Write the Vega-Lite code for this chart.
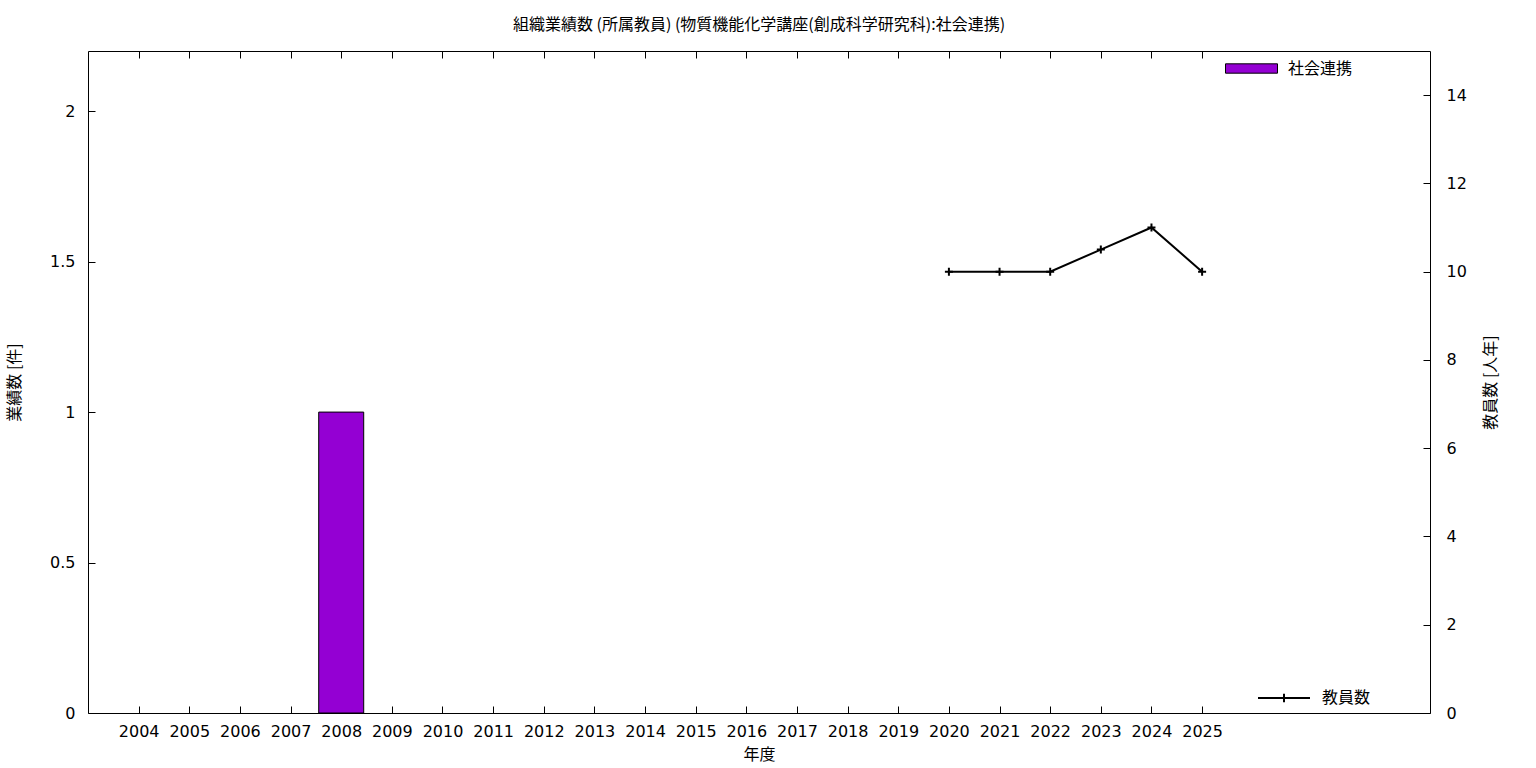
{
  "$schema": "https://vega.github.io/schema/vega-lite/v6.json",
  "autosize": "none",
  "width": 1342,
  "height": 662,
  "padding": {"left": 88, "top": 51, "right": 106, "bottom": 55},
  "config": {
    "font": "Noto Sans CJK JP",
    "view": {"stroke": "black", "strokeWidth": 1},
    "axis": {
      "domain": false,
      "grid": false,
      "tickColor": "black",
      "tickSize": -7,
      "tickWidth": 1,
      "labelFont": "DejaVu Sans",
      "labelFontSize": 16,
      "labelColor": "black",
      "titleFont": "Noto Sans CJK JP",
      "titleFontSize": 16,
      "titleFontWeight": "normal",
      "titleColor": "black"
    },
    "legend": {
      "labelFont": "Noto Sans CJK JP",
      "labelFontSize": 16,
      "labelColor": "black",
      "padding": 0
    }
  },
  "title": {
    "text": "組織業績数 (所属教員) (物質機能化学講座(創成科学研究科):社会連携)",
    "font": "Noto Sans CJK JP",
    "fontSize": 16,
    "fontWeight": "normal",
    "color": "black",
    "offset": 9,
    "anchor": "middle"
  },
  "datasets": {
    "bars": [
      {"year": 2004, "count": 0, "series": "社会連携"},
      {"year": 2005, "count": 0, "series": "社会連携"},
      {"year": 2006, "count": 0, "series": "社会連携"},
      {"year": 2007, "count": 0, "series": "社会連携"},
      {"year": 2008, "count": 1, "series": "社会連携"},
      {"year": 2009, "count": 0, "series": "社会連携"},
      {"year": 2010, "count": 0, "series": "社会連携"},
      {"year": 2011, "count": 0, "series": "社会連携"},
      {"year": 2012, "count": 0, "series": "社会連携"},
      {"year": 2013, "count": 0, "series": "社会連携"},
      {"year": 2014, "count": 0, "series": "社会連携"},
      {"year": 2015, "count": 0, "series": "社会連携"},
      {"year": 2016, "count": 0, "series": "社会連携"},
      {"year": 2017, "count": 0, "series": "社会連携"},
      {"year": 2018, "count": 0, "series": "社会連携"},
      {"year": 2019, "count": 0, "series": "社会連携"},
      {"year": 2020, "count": 0, "series": "社会連携"},
      {"year": 2021, "count": 0, "series": "社会連携"},
      {"year": 2022, "count": 0, "series": "社会連携"},
      {"year": 2023, "count": 0, "series": "社会連携"},
      {"year": 2024, "count": 0, "series": "社会連携"},
      {"year": 2025, "count": 0, "series": "社会連携"}
    ],
    "staff": [
      {"year": 2020, "staff": 10, "series": "教員数"},
      {"year": 2021, "staff": 10, "series": "教員数"},
      {"year": 2022, "staff": 10, "series": "教員数"},
      {"year": 2023, "staff": 10.5, "series": "教員数"},
      {"year": 2024, "staff": 11, "series": "教員数"},
      {"year": 2025, "staff": 10, "series": "教員数"}
    ]
  },
  "resolve": {"scale": {"y": "independent"}, "axis": {"x": "independent"}},
  "layer": [
    {
      "data": {"name": "bars"},
      "transform": [{"filter": "datum.count > 0"}],
      "mark": {"type": "bar", "width": 45, "stroke": "black", "strokeWidth": 1, "fillOpacity": 1},
      "encoding": {
        "x": {
          "field": "year", "type": "quantitative",
          "scale": {"domain": [2003, 2029.5], "nice": false, "zero": false, "padding": 0},
          "axis": {
            "orient": "bottom",
            "values": [2004, 2005, 2006, 2007, 2008, 2009, 2010, 2011, 2012, 2013, 2014, 2015, 2016, 2017, 2018, 2019, 2020, 2021, 2022, 2023, 2024, 2025],
            "format": "d",
            "labelPadding": 17,
            "title": "年度",
            "titlePadding": 7,
            "labelFlush": false,
            "labelOverlap": false
          }
        },
        "y": {
          "field": "count", "type": "quantitative",
          "scale": {"domain": [0, 2.2], "nice": false},
          "axis": {
            "orient": "left",
            "values": [0, 0.5, 1, 1.5, 2],
            "format": "~g",
            "labelPadding": 20,
            "title": "業績数 [件]",
            "titlePadding": 27,
            "labelFlush": false
          }
        },
        "color": {
          "field": "series", "type": "nominal",
          "scale": {"range": ["#9400d3"]},
          "legend": {
            "title": null,
            "orient": "none",
            "legendX": 1137,
            "legendY": -9,
            "symbolType": "M-1,-0.18H1V0.18H-1Z",
            "symbolSize": 2704,
            "symbolStrokeColor": "black",
            "symbolStrokeWidth": 1,
            "symbolOpacity": 1,
            "labelOffset": 10
          }
        }
      }
    },
    {
      "data": {"name": "staff"},
      "layer": [
        {
          "mark": {"type": "line", "strokeWidth": 2},
          "encoding": {
            "x": {
              "field": "year", "type": "quantitative",
              "scale": {"domain": [2003, 2029.5], "nice": false, "zero": false, "padding": 0},
              "axis": {
                "orient": "top",
                "values": [2004, 2005, 2006, 2007, 2008, 2009, 2010, 2011, 2012, 2013, 2014, 2015, 2016, 2017, 2018, 2019, 2020, 2021, 2022, 2023, 2024, 2025],
                "labels": false,
                "title": null
              }
            },
            "y": {
              "field": "staff", "type": "quantitative",
              "scale": {"domain": [0, 15], "nice": false},
              "axis": {
                "orient": "right",
                "values": [0, 2, 4, 6, 8, 10, 12, 14],
                "format": "d",
                "labelPadding": 23,
                "title": "教員数 [人年]",
                "titleAngle": -90,
                "titlePadding": 32
              }
            },
            "stroke": {
              "field": "series", "type": "nominal",
              "scale": {"range": ["black"]},
              "legend": {
                "title": null,
                "orient": "none",
                "legendX": 1169,
                "legendY": 620,
                "symbolType": "M-1,0H1M0,-0.16V0.16",
                "symbolSize": 2704,
                "symbolStrokeWidth": 2,
                "symbolFillColor": "transparent",
                "labelOffset": 11
              }
            }
          }
        },
        {
          "mark": {"type": "point", "shape": "M-1,0H1M0,-1V1", "size": 64, "filled": false, "stroke": "black", "strokeWidth": 2, "opacity": 1},
          "encoding": {
            "x": {"field": "year", "type": "quantitative"},
            "y": {"field": "staff", "type": "quantitative"}
          }
        }
      ]
    }
  ]
}
